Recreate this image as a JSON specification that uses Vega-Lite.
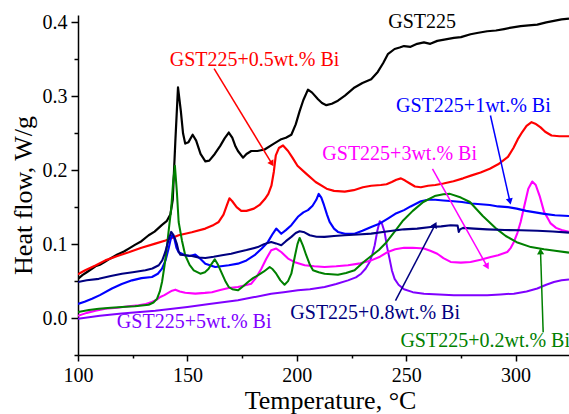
{
  "$schema": "https://vega.github.io/schema/vega-lite/v6.json",
  "width": 491,
  "height": 340,
  "autosize": {"type": "none"},
  "padding": {"left": 78, "top": 15, "right": 0, "bottom": 59},
  "background": "white",
  "config": {
    "view": {"stroke": null},
    "font": "Liberation Serif",
    "axis": {
      "labelFont": "Liberation Serif",
      "titleFont": "Liberation Serif",
      "labelFontSize": 20,
      "titleFontSize": 26,
      "titleFontWeight": "normal",
      "labelColor": "black",
      "titleColor": "black",
      "domainColor": "black",
      "tickColor": "black",
      "domainWidth": 1.5,
      "tickWidth": 1.5,
      "labelOverlap": false,
      "labelBound": false,
      "labelFlush": false,
      "grid": false
    }
  },
  "datasets": {
    "curves": [
      {"s":"GST225","x":100,"y":0.053},{"s":"GST225","x":102,"y":0.058},{"s":"GST225","x":104,"y":0.062},{"s":"GST225","x":106,"y":0.066},{"s":"GST225","x":108,"y":0.07},{"s":"GST225","x":110,"y":0.072},{"s":"GST225","x":112.3,"y":0.076},{"s":"GST225","x":115,"y":0.081},{"s":"GST225","x":118,"y":0.086},{"s":"GST225","x":121,"y":0.09},{"s":"GST225","x":123.2,"y":0.094},{"s":"GST225","x":126,"y":0.099},{"s":"GST225","x":129,"y":0.104},{"s":"GST225","x":132.3,"y":0.112},{"s":"GST225","x":135,"y":0.117},{"s":"GST225","x":138.4,"y":0.126},{"s":"GST225","x":140.5,"y":0.131},{"s":"GST225","x":142.2,"y":0.14},{"s":"GST225","x":143.3,"y":0.16},{"s":"GST225","x":144.5,"y":0.24},{"s":"GST225","x":145.7,"y":0.312},{"s":"GST225","x":147,"y":0.28},{"s":"GST225","x":148,"y":0.25},{"s":"GST225","x":149,"y":0.236},{"s":"GST225","x":150.5,"y":0.238},{"s":"GST225","x":152.4,"y":0.248},{"s":"GST225","x":154,"y":0.24},{"s":"GST225","x":156,"y":0.222},{"s":"GST225","x":158.2,"y":0.212},{"s":"GST225","x":160,"y":0.213},{"s":"GST225","x":162.5,"y":0.222},{"s":"GST225","x":165,"y":0.233},{"s":"GST225","x":167,"y":0.243},{"s":"GST225","x":168.9,"y":0.251},{"s":"GST225","x":170.5,"y":0.244},{"s":"GST225","x":172,"y":0.232},{"s":"GST225","x":173.1,"y":0.226},{"s":"GST225","x":175.4,"y":0.217},{"s":"GST225","x":177,"y":0.222},{"s":"GST225","x":179.2,"y":0.226},{"s":"GST225","x":182,"y":0.226},{"s":"GST225","x":185.3,"y":0.228},{"s":"GST225","x":189,"y":0.235},{"s":"GST225","x":192.9,"y":0.242},{"s":"GST225","x":195,"y":0.244},{"s":"GST225","x":197.5,"y":0.248},{"s":"GST225","x":199.5,"y":0.262},{"s":"GST225","x":201.3,"y":0.28},{"s":"GST225","x":203,"y":0.295},{"s":"GST225","x":205.1,"y":0.309},{"s":"GST225","x":207,"y":0.305},{"s":"GST225","x":209.7,"y":0.296},{"s":"GST225","x":211.5,"y":0.291},{"s":"GST225","x":213.5,"y":0.288},{"s":"GST225","x":216,"y":0.29},{"s":"GST225","x":218.8,"y":0.294},{"s":"GST225","x":222,"y":0.301},{"s":"GST225","x":226.4,"y":0.312},{"s":"GST225","x":230,"y":0.318},{"s":"GST225","x":234,"y":0.323},{"s":"GST225","x":237,"y":0.333},{"s":"GST225","x":239.5,"y":0.345},{"s":"GST225","x":241.6,"y":0.357},{"s":"GST225","x":244.7,"y":0.364},{"s":"GST225","x":247,"y":0.366},{"s":"GST225","x":249,"y":0.368},{"s":"GST225","x":252,"y":0.367},{"s":"GST225","x":255,"y":0.371},{"s":"GST225","x":258.1,"y":0.373},{"s":"GST225","x":261,"y":0.371},{"s":"GST225","x":264.2,"y":0.375},{"s":"GST225","x":268,"y":0.377},{"s":"GST225","x":271.8,"y":0.379},{"s":"GST225","x":275,"y":0.38},{"s":"GST225","x":279.4,"y":0.384},{"s":"GST225","x":283,"y":0.386},{"s":"GST225","x":287,"y":0.388},{"s":"GST225","x":291,"y":0.389},{"s":"GST225","x":294.7,"y":0.391},{"s":"GST225","x":298,"y":0.393},{"s":"GST225","x":302.3,"y":0.395},{"s":"GST225","x":306,"y":0.396},{"s":"GST225","x":309.9,"y":0.397},{"s":"GST225","x":314,"y":0.4},{"s":"GST225","x":317.5,"y":0.402},{"s":"GST225","x":321,"y":0.404},{"s":"GST225","x":324.4,"y":0.405},

      {"s":"0.5","x":100,"y":0.059},{"s":"0.5","x":101,"y":0.061},{"s":"0.5","x":103.3,"y":0.0646},{"s":"0.5","x":108,"y":0.071},{"s":"0.5","x":112.5,"y":0.078},{"s":"0.5","x":118,"y":0.084},{"s":"0.5","x":123.2,"y":0.089},{"s":"0.5","x":129,"y":0.095},{"s":"0.5","x":135.3,"y":0.1007},{"s":"0.5","x":140,"y":0.105},{"s":"0.5","x":146,"y":0.112},{"s":"0.5","x":152,"y":0.116},{"s":"0.5","x":158.2,"y":0.121},{"s":"0.5","x":162,"y":0.126},{"s":"0.5","x":164.3,"y":0.13},{"s":"0.5","x":166.5,"y":0.14},{"s":"0.5","x":168.1,"y":0.153},{"s":"0.5","x":169.2,"y":0.162},{"s":"0.5","x":170.5,"y":0.158},{"s":"0.5","x":172.5,"y":0.15},{"s":"0.5","x":174.6,"y":0.145},{"s":"0.5","x":177,"y":0.145},{"s":"0.5","x":180.4,"y":0.148},{"s":"0.5","x":183,"y":0.153},{"s":"0.5","x":185.4,"y":0.161},{"s":"0.5","x":187,"y":0.168},{"s":"0.5","x":188.4,"y":0.179},{"s":"0.5","x":189.5,"y":0.198},{"s":"0.5","x":190.4,"y":0.22},{"s":"0.5","x":191.8,"y":0.23},{"s":"0.5","x":193.7,"y":0.2335},{"s":"0.5","x":196,"y":0.226},{"s":"0.5","x":198,"y":0.217},{"s":"0.5","x":200.3,"y":0.206},{"s":"0.5","x":204,"y":0.196},{"s":"0.5","x":208.6,"y":0.184},{"s":"0.5","x":213.6,"y":0.175},{"s":"0.5","x":217,"y":0.172},{"s":"0.5","x":221.9,"y":0.171},{"s":"0.5","x":226,"y":0.173},{"s":"0.5","x":230.2,"y":0.177},{"s":"0.5","x":234,"y":0.179},{"s":"0.5","x":238.4,"y":0.18},{"s":"0.5","x":241,"y":0.181},{"s":"0.5","x":243.4,"y":0.184},{"s":"0.5","x":245.5,"y":0.187},{"s":"0.5","x":247.6,"y":0.189},{"s":"0.5","x":249.5,"y":0.186},{"s":"0.5","x":251.7,"y":0.182},{"s":"0.5","x":254,"y":0.178},{"s":"0.5","x":256.7,"y":0.177},{"s":"0.5","x":260,"y":0.179},{"s":"0.5","x":263.3,"y":0.18},{"s":"0.5","x":267,"y":0.182},{"s":"0.5","x":271.6,"y":0.185},{"s":"0.5","x":276,"y":0.189},{"s":"0.5","x":279.9,"y":0.193},{"s":"0.5","x":284,"y":0.197},{"s":"0.5","x":288.2,"y":0.202},{"s":"0.5","x":292,"y":0.208},{"s":"0.5","x":296.5,"y":0.218},{"s":"0.5","x":299,"y":0.23},{"s":"0.5","x":301,"y":0.242},{"s":"0.5","x":303.1,"y":0.252},{"s":"0.5","x":305,"y":0.26},{"s":"0.5","x":307.3,"y":0.265},{"s":"0.5","x":309,"y":0.263},{"s":"0.5","x":311.4,"y":0.258},{"s":"0.5","x":313.5,"y":0.252},{"s":"0.5","x":316.4,"y":0.247},{"s":"0.5","x":320,"y":0.246},{"s":"0.5","x":324.4,"y":0.246},

      {"s":"5","x":100,"y":-0.001},{"s":"5","x":110,"y":0.003},{"s":"5","x":120,"y":0.006},{"s":"5","x":135.3,"y":0.01},{"s":"5","x":150,"y":0.015},{"s":"5","x":160,"y":0.019},{"s":"5","x":173.1,"y":0.024},{"s":"5","x":180,"y":0.028},{"s":"5","x":188.3,"y":0.033},{"s":"5","x":194,"y":0.035},{"s":"5","x":200.5,"y":0.0375},{"s":"5","x":206,"y":0.039},{"s":"5","x":212.7,"y":0.042},{"s":"5","x":218,"y":0.046},{"s":"5","x":223.4,"y":0.051},{"s":"5","x":227,"y":0.055},{"s":"5","x":229.4,"y":0.06},{"s":"5","x":231.5,"y":0.067},{"s":"5","x":233.3,"y":0.0759},{"s":"5","x":234.5,"y":0.086},{"s":"5","x":235.6,"y":0.0985},{"s":"5","x":236.8,"y":0.118},{"s":"5","x":237.9,"y":0.131},{"s":"5","x":239,"y":0.127},{"s":"5","x":240.1,"y":0.1165},{"s":"5","x":241.2,"y":0.097},{"s":"5","x":242.4,"y":0.08},{"s":"5","x":243.5,"y":0.064},{"s":"5","x":244.7,"y":0.053},{"s":"5","x":246.5,"y":0.045},{"s":"5","x":249,"y":0.0389},{"s":"5","x":253,"y":0.035},{"s":"5","x":258.1,"y":0.033},{"s":"5","x":265,"y":0.032},{"s":"5","x":271.8,"y":0.031},{"s":"5","x":280,"y":0.031},{"s":"5","x":287,"y":0.031},{"s":"5","x":293,"y":0.032},{"s":"5","x":299.2,"y":0.033},{"s":"5","x":305,"y":0.036},{"s":"5","x":309.9,"y":0.04},{"s":"5","x":314,"y":0.045},{"s":"5","x":317.5,"y":0.0488},{"s":"5","x":321,"y":0.051},{"s":"5","x":324.4,"y":0.052},

      {"s":"3","x":100,"y":0.003},{"s":"3","x":104,"y":0.007},{"s":"3","x":108,"y":0.01},{"s":"3","x":112.5,"y":0.0126},{"s":"3","x":118,"y":0.014},{"s":"3","x":123,"y":0.016},{"s":"3","x":127.7,"y":0.0172},{"s":"3","x":131,"y":0.019},{"s":"3","x":133.8,"y":0.0217},{"s":"3","x":136,"y":0.025},{"s":"3","x":137.6,"y":0.0285},{"s":"3","x":139.5,"y":0.031},{"s":"3","x":141.4,"y":0.0343},{"s":"3","x":143,"y":0.037},{"s":"3","x":144.5,"y":0.0384},{"s":"3","x":146.5,"y":0.036},{"s":"3","x":149,"y":0.0343},{"s":"3","x":153.6,"y":0.033},{"s":"3","x":158,"y":0.034},{"s":"3","x":161.2,"y":0.035},{"s":"3","x":165,"y":0.038},{"s":"3","x":168.9,"y":0.0407},{"s":"3","x":173.1,"y":0.042},{"s":"3","x":176,"y":0.044},{"s":"3","x":179.2,"y":0.0465},{"s":"3","x":181.5,"y":0.055},{"s":"3","x":183.8,"y":0.0668},{"s":"3","x":186,"y":0.08},{"s":"3","x":188.3,"y":0.0917},{"s":"3","x":190.6,"y":0.094},{"s":"3","x":193,"y":0.089},{"s":"3","x":196,"y":0.0804},{"s":"3","x":199.5,"y":0.075},{"s":"3","x":203.6,"y":0.0714},{"s":"3","x":208,"y":0.07},{"s":"3","x":212.7,"y":0.069},{"s":"3","x":218,"y":0.07},{"s":"3","x":223.4,"y":0.0714},{"s":"3","x":229,"y":0.074},{"s":"3","x":234,"y":0.078},{"s":"3","x":238,"y":0.083},{"s":"3","x":241.6,"y":0.0894},{"s":"3","x":245,"y":0.093},{"s":"3","x":249,"y":0.095},{"s":"3","x":253,"y":0.095},{"s":"3","x":258.1,"y":0.094},{"s":"3","x":261,"y":0.091},{"s":"3","x":264.2,"y":0.087},{"s":"3","x":267,"y":0.081},{"s":"3","x":270.3,"y":0.0759},{"s":"3","x":275,"y":0.075},{"s":"3","x":279.4,"y":0.0759},{"s":"3","x":284,"y":0.079},{"s":"3","x":288.6,"y":0.0827},{"s":"3","x":292,"y":0.085},{"s":"3","x":296.2,"y":0.0894},{"s":"3","x":297.8,"y":0.095},{"s":"3","x":299.2,"y":0.103},{"s":"3","x":300.8,"y":0.115},{"s":"3","x":302.3,"y":0.13},{"s":"3","x":304,"y":0.152},{"s":"3","x":305.8,"y":0.175},{"s":"3","x":307.6,"y":0.1847},{"s":"3","x":309.2,"y":0.18},{"s":"3","x":311,"y":0.165},{"s":"3","x":313,"y":0.1436},{"s":"3","x":314.5,"y":0.136},{"s":"3","x":316,"y":0.128},{"s":"3","x":318.5,"y":0.122},{"s":"3","x":321,"y":0.119},{"s":"3","x":324.4,"y":0.1165},

      {"s":"1","x":100,"y":0.019},{"s":"1","x":103,"y":0.022},{"s":"1","x":106.4,"y":0.026},{"s":"1","x":110,"y":0.031},{"s":"1","x":115.5,"y":0.04},{"s":"1","x":120,"y":0.046},{"s":"1","x":124.7,"y":0.051},{"s":"1","x":129,"y":0.054},{"s":"1","x":133.8,"y":0.0556},{"s":"1","x":136.5,"y":0.06},{"s":"1","x":138.4,"y":0.0668},{"s":"1","x":140,"y":0.078},{"s":"1","x":141.4,"y":0.094},{"s":"1","x":142.3,"y":0.106},{"s":"1","x":143,"y":0.112},{"s":"1","x":144,"y":0.108},{"s":"1","x":145,"y":0.095},{"s":"1","x":146,"y":0.089},{"s":"1","x":149,"y":0.085},{"s":"1","x":151,"y":0.084},{"s":"1","x":153.6,"y":0.0858},{"s":"1","x":156,"y":0.08},{"s":"1","x":158.2,"y":0.0736},{"s":"1","x":162.7,"y":0.069},{"s":"1","x":168.9,"y":0.0714},{"s":"1","x":173.1,"y":0.0736},{"s":"1","x":177,"y":0.078},{"s":"1","x":180.7,"y":0.085},{"s":"1","x":184,"y":0.094},{"s":"1","x":186.8,"y":0.103},{"s":"1","x":189,"y":0.114},{"s":"1","x":190.6,"y":0.121},{"s":"1","x":192.9,"y":0.114},{"s":"1","x":195,"y":0.119},{"s":"1","x":197.5,"y":0.1256},{"s":"1","x":200.5,"y":0.137},{"s":"1","x":203,"y":0.143},{"s":"1","x":205.1,"y":0.146},{"s":"1","x":207.2,"y":0.152},{"s":"1","x":208.9,"y":0.16},{"s":"1","x":210,"y":0.168},{"s":"1","x":211.2,"y":0.163},{"s":"1","x":212.4,"y":0.153},{"s":"1","x":213.8,"y":0.14},{"s":"1","x":215,"y":0.13},{"s":"1","x":217,"y":0.121},{"s":"1","x":218.8,"y":0.1165},{"s":"1","x":222,"y":0.114},{"s":"1","x":226.4,"y":0.114},{"s":"1","x":230,"y":0.118},{"s":"1","x":234,"y":0.1233},{"s":"1","x":238,"y":0.128},{"s":"1","x":241.6,"y":0.1346},{"s":"1","x":245,"y":0.141},{"s":"1","x":249,"y":0.146},{"s":"1","x":252,"y":0.151},{"s":"1","x":256.7,"y":0.158},{"s":"1","x":260,"y":0.16},{"s":"1","x":263.3,"y":0.16},{"s":"1","x":267,"y":0.159},{"s":"1","x":271.6,"y":0.158},{"s":"1","x":275.5,"y":0.157},{"s":"1","x":279.9,"y":0.155},{"s":"1","x":284,"y":0.154},{"s":"1","x":288.2,"y":0.153},{"s":"1","x":292,"y":0.151},{"s":"1","x":296.5,"y":0.15},{"s":"1","x":300.5,"y":0.148},{"s":"1","x":304.8,"y":0.145},{"s":"1","x":309,"y":0.143},{"s":"1","x":313.1,"y":0.141},{"s":"1","x":318,"y":0.139},{"s":"1","x":324.4,"y":0.138},

      {"s":"0.2","x":100,"y":0.0081},{"s":"0.2","x":105,"y":0.011},{"s":"0.2","x":109.5,"y":0.0126},{"s":"0.2","x":115,"y":0.014},{"s":"0.2","x":120.1,"y":0.0149},{"s":"0.2","x":126,"y":0.016},{"s":"0.2","x":132.3,"y":0.018},{"s":"0.2","x":134.5,"y":0.021},{"s":"0.2","x":136.1,"y":0.026},{"s":"0.2","x":137.4,"y":0.036},{"s":"0.2","x":138.4,"y":0.0488},{"s":"0.2","x":139.6,"y":0.072},{"s":"0.2","x":140.7,"y":0.0985},{"s":"0.2","x":141.7,"y":0.125},{"s":"0.2","x":142.6,"y":0.148},{"s":"0.2","x":143.5,"y":0.185},{"s":"0.2","x":144.3,"y":0.206},{"s":"0.2","x":145.2,"y":0.17},{"s":"0.2","x":146,"y":0.13},{"s":"0.2","x":147.5,"y":0.105},{"s":"0.2","x":149,"y":0.085},{"s":"0.2","x":151,"y":0.072},{"s":"0.2","x":152.9,"y":0.0646},{"s":"0.2","x":155.9,"y":0.06},{"s":"0.2","x":158,"y":0.062},{"s":"0.2","x":159.7,"y":0.0668},{"s":"0.2","x":161,"y":0.073},{"s":"0.2","x":162.5,"y":0.0795},{"s":"0.2","x":164,"y":0.072},{"s":"0.2","x":165.8,"y":0.06},{"s":"0.2","x":167.5,"y":0.049},{"s":"0.2","x":168.9,"y":0.042},{"s":"0.2","x":170.5,"y":0.039},{"s":"0.2","x":173.1,"y":0.0375},{"s":"0.2","x":175.5,"y":0.043},{"s":"0.2","x":177.7,"y":0.0488},{"s":"0.2","x":180,"y":0.054},{"s":"0.2","x":182.2,"y":0.0578},{"s":"0.2","x":185,"y":0.063},{"s":"0.2","x":187.6,"y":0.069},{"s":"0.2","x":189,"y":0.066},{"s":"0.2","x":190.6,"y":0.06},{"s":"0.2","x":192.5,"y":0.051},{"s":"0.2","x":194.4,"y":0.045},{"s":"0.2","x":196,"y":0.05},{"s":"0.2","x":197.5,"y":0.06},{"s":"0.2","x":199,"y":0.082},{"s":"0.2","x":200.3,"y":0.1},{"s":"0.2","x":201.3,"y":0.1084},{"s":"0.2","x":202.8,"y":0.098},{"s":"0.2","x":204.3,"y":0.085},{"s":"0.2","x":206,"y":0.072},{"s":"0.2","x":207.4,"y":0.0646},{"s":"0.2","x":210,"y":0.062},{"s":"0.2","x":212.7,"y":0.06},{"s":"0.2","x":218.8,"y":0.0587},{"s":"0.2","x":222.5,"y":0.061},{"s":"0.2","x":226.4,"y":0.0646},{"s":"0.2","x":230.4,"y":0.0755},{"s":"0.2","x":234,"y":0.084},{"s":"0.2","x":237.5,"y":0.092},{"s":"0.2","x":241,"y":0.1026},{"s":"0.2","x":245.5,"y":0.12},{"s":"0.2","x":248.6,"y":0.132},{"s":"0.2","x":253,"y":0.145},{"s":"0.2","x":257.8,"y":0.157},{"s":"0.2","x":263,"y":0.165},{"s":"0.2","x":267,"y":0.1675},{"s":"0.2","x":270,"y":0.168},{"s":"0.2","x":275,"y":0.163},{"s":"0.2","x":279.1,"y":0.157},{"s":"0.2","x":285,"y":0.138},{"s":"0.2","x":291.3,"y":0.1206},{"s":"0.2","x":295.5,"y":0.111},{"s":"0.2","x":300.5,"y":0.1026},{"s":"0.2","x":307,"y":0.096},{"s":"0.2","x":313,"y":0.093},{"s":"0.2","x":318,"y":0.091},{"s":"0.2","x":324.4,"y":0.0885},

      {"s":"0.8","x":100,"y":0.0488},{"s":"0.8","x":104,"y":0.051},{"s":"0.8","x":109.5,"y":0.053},{"s":"0.8","x":115,"y":0.057},{"s":"0.8","x":120.1,"y":0.06},{"s":"0.8","x":125,"y":0.062},{"s":"0.8","x":130.8,"y":0.0646},{"s":"0.8","x":134,"y":0.067},{"s":"0.8","x":136.9,"y":0.0714},{"s":"0.8","x":138.5,"y":0.078},{"s":"0.8","x":139.9,"y":0.0894},{"s":"0.8","x":141.3,"y":0.105},{"s":"0.8","x":142.6,"y":0.1165},{"s":"0.8","x":143.5,"y":0.113},{"s":"0.8","x":144.5,"y":0.106},{"s":"0.8","x":145.2,"y":0.1},{"s":"0.8","x":146,"y":0.09},{"s":"0.8","x":146.7,"y":0.0858},{"s":"0.8","x":149,"y":0.085},{"s":"0.8","x":152.1,"y":0.084},{"s":"0.8","x":155,"y":0.082},{"s":"0.8","x":158.2,"y":0.0813},{"s":"0.8","x":162,"y":0.083},{"s":"0.8","x":165.8,"y":0.085},{"s":"0.8","x":170,"y":0.087},{"s":"0.8","x":173.1,"y":0.0894},{"s":"0.8","x":177,"y":0.092},{"s":"0.8","x":182.2,"y":0.096},{"s":"0.8","x":185,"y":0.1},{"s":"0.8","x":188.3,"y":0.103},{"s":"0.8","x":190.5,"y":0.101},{"s":"0.8","x":192.9,"y":0.0985},{"s":"0.8","x":195,"y":0.104},{"s":"0.8","x":197.5,"y":0.1098},{"s":"0.8","x":199.5,"y":0.115},{"s":"0.8","x":201.3,"y":0.1175},{"s":"0.8","x":203.5,"y":0.116},{"s":"0.8","x":205.9,"y":0.112},{"s":"0.8","x":209,"y":0.11},{"s":"0.8","x":212.7,"y":0.1098},{"s":"0.8","x":217,"y":0.111},{"s":"0.8","x":221.8,"y":0.112},{"s":"0.8","x":228,"y":0.113},{"s":"0.8","x":234,"y":0.1142},{"s":"0.8","x":241,"y":0.117},{"s":"0.8","x":249,"y":0.12},{"s":"0.8","x":255,"y":0.121},{"s":"0.8","x":261.2,"y":0.1233},{"s":"0.8","x":266,"y":0.124},{"s":"0.8","x":270.3,"y":0.1256},{"s":"0.8","x":273.5,"y":0.125},{"s":"0.8","x":274,"y":0.1165},{"s":"0.8","x":274.6,"y":0.12},{"s":"0.8","x":276,"y":0.122},{"s":"0.8","x":281,"y":0.121},{"s":"0.8","x":287,"y":0.12},{"s":"0.8","x":295,"y":0.119},{"s":"0.8","x":302.3,"y":0.1188},{"s":"0.8","x":310,"y":0.118},{"s":"0.8","x":317,"y":0.117},{"s":"0.8","x":324.4,"y":0.1156}
    ],
    "labels": [
      {"s":"GST225","t":"GST225","x":257.3,"y":0.4},
      {"s":"0.5","t":"GST225+0.5wt.% Bi","x":180.7,"y":0.3487},
      {"s":"1","t":"GST225+1wt.% Bi","x":280.7,"y":0.2868},
      {"s":"3","t":"GST225+3wt.% Bi","x":247.0,"y":0.2222},
      {"s":"0.8","t":"GST225+0.8wt.% Bi","x":235.8,"y":0.0064},
      {"s":"0.2","t":"GST225+0.2wt.% Bi","x":286.1,"y":-0.0307},
      {"s":"5","t":"GST225+5wt.% Bi","x":153.1,"y":-0.005}
    ],
    "arrows": [
      {"s":"0.5","x":162.2,"y":0.3374,"x2":188.4,"y2":0.21},
      {"s":"1","x":288.5,"y":0.274,"x2":297.3,"y2":0.159},
      {"s":"3","x":262,"y":0.2019,"x2":286.8,"y2":0.0709},
      {"s":"0.8","x":245.1,"y":0.0235,"x2":263,"y2":0.125},
      {"s":"0.2","x":312.6,"y":-0.0194,"x2":311.4,"y2":0.089}
    ]
  },
  "layer": [
    {
      "data": {"name": "curves"},
      "mark": {"type": "line", "clip": true, "strokeJoin": "round"},
      "encoding": {
        "x": {
          "field": "x", "type": "quantitative",
          "scale": {"domain": [100, 324.4], "nice": false, "zero": false},
          "axis": {
            "title": "Temperature, °C",
            "values": [100,125,150,175,200,225,250,275,300],
            "tickCount": 30,
            "format": "d",
            "labelExpr": "datum.value % 50 === 0 ? datum.label : ''",
            "tickSize": {"condition": {"test": "datum.value % 50 === 0", "value": 6}, "value": 3},
            "labelPadding": 4,
            "titleX": 252,
            "titleY": 53,
            "titleBaseline": "alphabetic",
            "titleAnchor": "middle"
          }
        },
        "y": {
          "field": "y", "type": "quantitative",
          "scale": {"domain": [-0.05, 0.41], "nice": false, "zero": false},
          "axis": {
            "title": "Heat flow, W/g",
            "values": [-0.05,0,0.05,0.1,0.15,0.2,0.25,0.3,0.35,0.4],
            "tickCount": 30,
            "format": ".2f",
            "labelExpr": "indexof(['0.00','0.10','0.20','0.30','0.40'], datum.label) >= 0 ? format(datum.value, '.1f') : ''",
            "tickSize": {"condition": {"test": "indexof(['0.00','0.10','0.20','0.30','0.40'], format(datum.value, '.2f')) >= 0", "value": 7}, "value": 4},
            "labelPadding": 4,
            "titleX": -47,
            "titleY": 180,
            "titleBaseline": "alphabetic",
            "titleAnchor": "middle"
          }
        },
        "color": {
          "field": "s", "type": "nominal", "legend": null,
          "scale": {"domain": ["GST225","0.5","1","3","0.8","0.2","5"], "range": ["#000000","#ff0000","#0000ff","#ff00ff","#000080","#008000","#8000ff"]}
        },
        "strokeWidth": {
          "field": "s", "type": "nominal", "legend": null,
          "scale": {"domain": ["GST225","0.5","1","3","0.8","0.2","5"], "range": [2.2,2,1.8,1.8,3,1.8,1.8]}
        },
        "detail": {"field": "s"}
      }
    },
    {
      "data": {"name": "arrows"},
      "mark": {"type": "rule", "strokeWidth": 1.5},
      "encoding": {
        "x": {"field": "x", "type": "quantitative"},
        "y": {"field": "y", "type": "quantitative"},
        "x2": {"field": "x2"},
        "y2": {"field": "y2"},
        "color": {"field": "s", "type": "nominal", "legend": null}
      }
    },
    {
      "data": {"name": "arrows"},
      "transform": [
        {"calculate": "atan2((datum.x2 - datum.x) * 2.1885, (datum.y2 - datum.y) * 738) * 180 / PI", "as": "ang"}
      ],
      "mark": {"type": "point", "shape": "triangle", "filled": true, "size": 50, "opacity": 1},
      "encoding": {
        "x": {"field": "x2", "type": "quantitative"},
        "y": {"field": "y2", "type": "quantitative"},
        "angle": {"field": "ang", "type": "quantitative", "scale": {"domain": [0, 360], "range": [0, 360]}},
        "color": {"field": "s", "type": "nominal", "legend": null}
      }
    },
    {
      "data": {"name": "labels"},
      "mark": {"type": "text", "font": "Liberation Serif", "fontSize": 20, "align": "center", "baseline": "middle"},
      "encoding": {
        "x": {"field": "x", "type": "quantitative"},
        "y": {"field": "y", "type": "quantitative"},
        "text": {"field": "t"},
        "color": {"field": "s", "type": "nominal", "legend": null}
      }
    }
  ]
}
